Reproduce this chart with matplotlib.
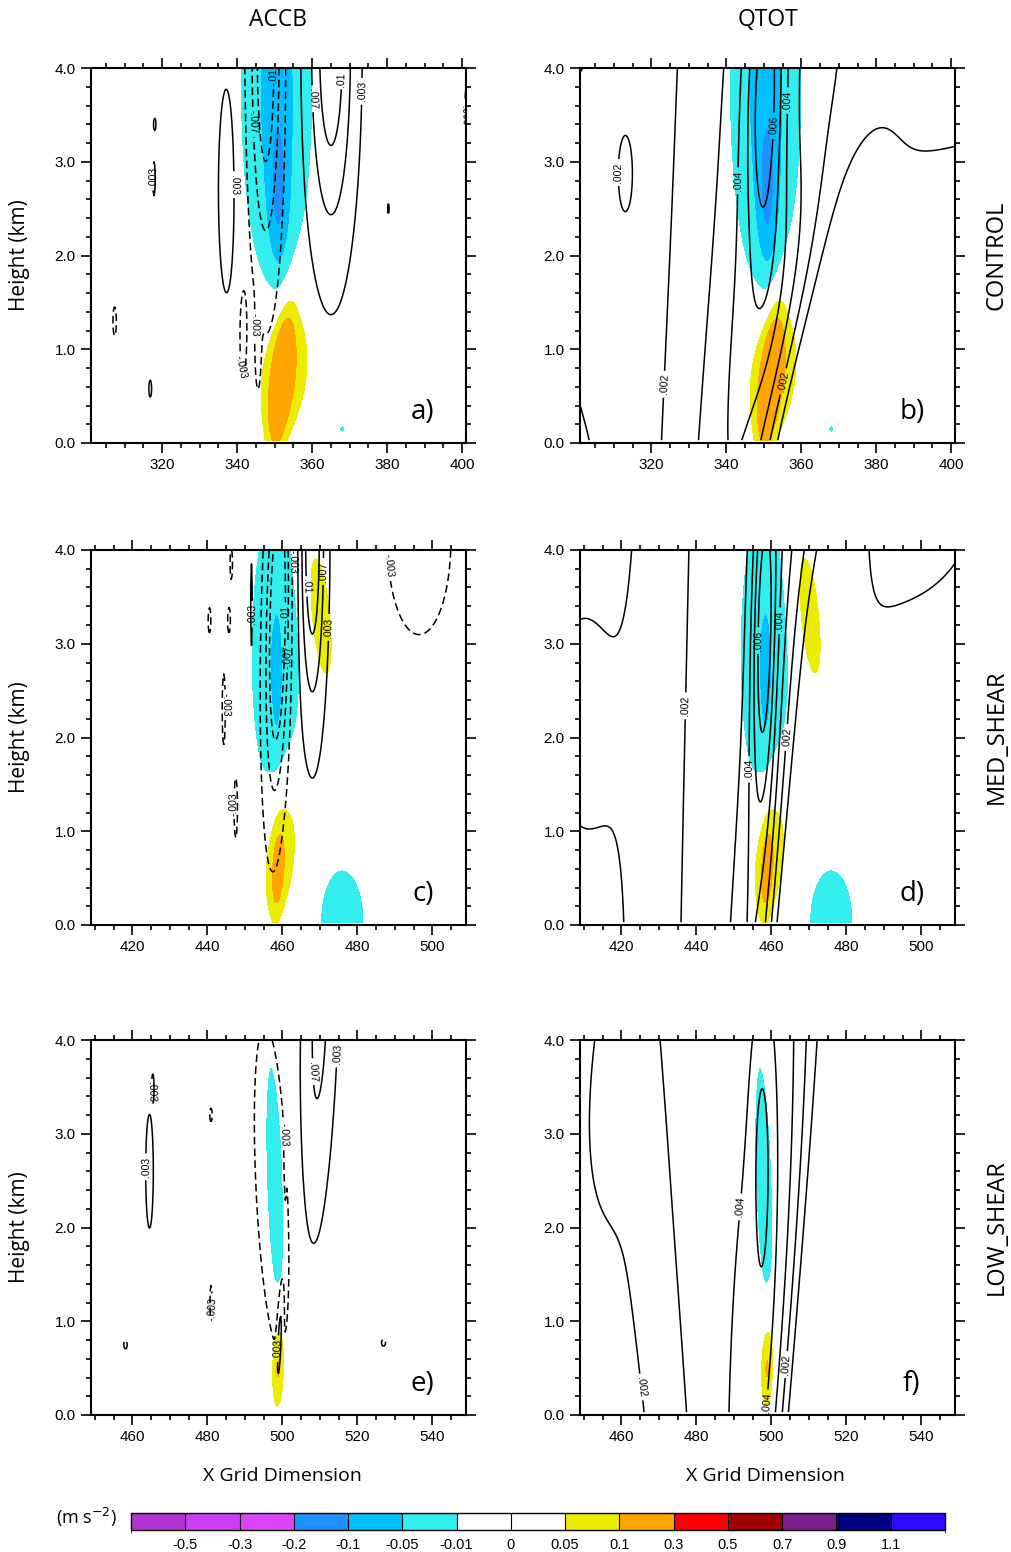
"""
Vertical accelerations (shaded) with ACCB / QTOT contours for the three shear runs.
"""
import numpy as np
import matplotlib
matplotlib.use("Agg")
import matplotlib.pyplot as plt
from matplotlib.colors import ListedColormap, BoundaryNorm
from matplotlib.cm import ScalarMappable
from matplotlib.ticker import MultipleLocator, FormatStrFormatter

OUTPUT = "out.png"

# shading: acceleration (m s-2)
ACCEL_LEVELS = [-0.5, -0.3, -0.2, -0.1, -0.05, -0.01, 0, 0.05, 0.1, 0.3, 0.5, 0.7, 0.9, 1.1]
ACCEL_LABELS = ["-0.5", "-0.3", "-0.2", "-0.1", "-0.05", "-0.01", "0",
                "0.05", "0.1", "0.3", "0.5", "0.7", "0.9", "1.1"]
ACCEL_COLORS = ["#b232d2", "#cc3ef2", "#dc44fc", "#1e90ff", "#00bfff", "#34eded",
                "#ffffff", "#ffffff", "#ecec00", "#ffa500", "#ff0000", "#a00000",
                "#7a1f8c", "#000080", "#2e0aff"]

# line contours
ACCB_LEVELS = [-0.01, -0.007, -0.003, 0.003, 0.007, 0.01]
QTOT_LEVELS = [0.001, 0.002, 0.003, 0.004, 0.005, 0.006, 0.007, 0.008]
QTOT_LABELED = [0.002, 0.004, 0.006]

# x-ranges (grid points) for each run
CONTROL_XLIM = (301, 401)
MED_XLIM = (409, 509)
LOW_XLIM = (449, 549)

# cells: (x centre, z centre km, x width, z width, amplitude, tilt dx/dz)
CONTROL_ACCEL = [
    (351.0, 2.6, 2.0, 0.55, -0.08, 0.0),
    (350.5, 3.8, 4.8, 1.10, -0.075, 0.0),
    (352.5, 0.72, 5.0, 0.55, 0.10, 2.5),
    (351.8, 0.65, 1.6, 0.42, 0.20, 2.5),
    (368.0, 0.15, 0.6, 0.03, -0.02, 0.0),
]
CONTROL_ACCB = [
    (337.2, 2.7, 2.2, 1.1, 0.005, 0.0),
    (347.6, 4.2, 3.4, 1.8, -0.0125, 0.0),
    (365.0, 4.2, 5.0, 1.7, 0.012, 0.0),
    (341.5, 1.15, 0.8, 0.4, -0.005, 0.0),
    (345.5, 1.0, 0.5, 0.3, -0.0045, 0.0),
    (403.0, 3.6, 2.5, 0.5, -0.0045, 0.0),
    (318.0, 3.4, 0.35, 0.07, 0.0045, 0.0),
    (317.8, 2.82, 0.35, 0.2, 0.0045, 0.0),
    (307.3, 1.3, 0.5, 0.17, -0.0045, 0.0),
    (316.8, 0.58, 0.4, 0.1, 0.0045, 0.0),
    (380.3, 2.5, 0.25, 0.07, 0.004, 0.0),
]
CONTROL_QTOT = [
    (342.0, 0.0, 7.0, 40.0, 0.0014, 2.0),
    (338.0, 0.0, 22.0, 40.0, 0.0025, 1.0),
    (360.0, 0.0, 5.5, 1.6, -0.0030, 6.0),
    (350.5, 3.6, 3.5, 1.3, 0.0028, 0.5),
    (355.0, 1.8, 6.0, 1.1, 0.0012, 4.0),
    (400.0, 4.3, 25.0, 1.1, 0.0016, 0.0),
    (300.0, 2.4, 8.0, 1.6, 0.0009, 0.0),
    (313.0, 2.9, 1.8, 0.4, 0.0011, 0.0),
]

MED_ACCEL = [
    (458.3, 2.9, 3.8, 0.90, -0.045, 0.0),
    (458.5, 2.6, 1.0, 0.45, -0.035, 0.0),
    (476.0, 0.05, 3.2, 0.30, -0.05, 0.0),
    (470.3, 3.3, 2.6, 0.68, 0.075, -2.3),
    (459.5, 0.70, 3.3, 0.52, 0.09, 2.4),
    (458.8, 0.55, 1.0, 0.30, 0.07, 1.0),
]
MED_ACCB = [
    (458.8, 3.2, 2.56, 1.5, -0.014, 0.5),
    (468.0, 4.1, 2.8, 1.5, 0.0125, 0.0),
    (496.5, 4.1, 6.5, 0.77, -0.007, 0.0),
    (444.4, 2.3, 0.45, 0.42, -0.0045, 0.0),
    (445.8, 3.25, 0.4, 0.15, -0.0045, 0.0),
    (440.6, 3.25, 0.4, 0.15, -0.0045, 0.0),
    (447.6, 1.25, 0.5, 0.35, -0.0045, 0.0),
    (446.4, 3.85, 0.35, 0.18, -0.0045, 0.0),
    (451.8, 3.4, 0.25, 0.55, 0.0045, 0.0),
]
MED_QTOT = [
    (455.0, 0.0, 4.0, 40.0, 0.0018, 1.5),
    (448.0, 0.0, 20.0, 40.0, 0.0024, 0.5),
    (467.0, 0.0, 4.5, 40.0, -0.0030, 3.0),
    (458.0, 3.2, 2.2, 1.3, 0.0030, 0.3),
    (495.0, 4.7, 16.0, 0.9, 0.0022, 0.0),
    (407.0, 2.2, 8.0, 1.3, 0.0010, 0.0),
]

LOW_ACCEL = [
    (498.0, 2.5, 1.45, 0.82, -0.03, -0.8),
    (498.9, 0.5, 1.2, 0.33, 0.105, 0.5),
]
LOW_ACCB = [
    (464.6, 2.6, 1.0, 0.6, 0.005, 0.0),
    (497.5, 2.4, 3.6, 1.4, -0.0065, -1.2),
    (510.0, 4.3, 3.6, 1.8, 0.008, 0.8),
    (499.3, 0.8, 0.45, 0.35, 0.009, 1.0),
    (500.8, 3.0, 0.2, 0.4, 0.0045, 0.0),
    (465.5, 3.5, 0.25, 0.12, 0.0045, 0.0),
    (481.0, 1.2, 0.3, 0.2, -0.0045, 0.0),
    (481.0, 3.2, 0.35, 0.08, -0.0045, 0.0),
    (458.2, 0.75, 0.5, 0.05, -0.0045, 0.0),
    (527.0, 0.77, 0.6, 0.04, -0.0045, 0.0),
]
LOW_QTOT = [
    (490.0, 0.0, 20.0, 40.0, 0.0036, -1.5),
    (498.0, 0.0, 6.0, 40.0, 0.0014, 1.0),
    (512.0, 0.0, 7.0, 40.0, -0.0045, 3.5),
    (457.0, 3.4, 5.0, 0.9, 0.0007, 2.0),
    (497.5, 2.8, 1.8, 1.0, 0.0012, 0.0),
    (449.0, 2.0, 12.0, 3.0, 0.0008, 0.0),
]

ROWS = [
    ("CONTROL", CONTROL_XLIM, CONTROL_ACCEL, CONTROL_ACCB, CONTROL_QTOT, "a)", "b)"),
    ("MED_SHEAR", MED_XLIM, MED_ACCEL, MED_ACCB, MED_QTOT, "c)", "d)"),
    ("LOW_SHEAR", LOW_XLIM, LOW_ACCEL, LOW_ACCB, LOW_QTOT, "e)", "f)"),
]

W, H = 1012, 1552
TICK_FONT = ["Liberation Sans", "DejaVu Sans"]
TITLE_FONT = ["Open Sans", "DejaVu Sans"]

cmap = ListedColormap(ACCEL_COLORS)
norm = BoundaryNorm(ACCEL_LEVELS, ncolors=len(ACCEL_COLORS), extend="both")


def cells(x, z, spec):
    X, Z = np.meshgrid(x, z)
    F = np.zeros_like(X)
    for xc, zc, sx, sz, amp, tilt in spec:
        xs = xc + tilt * (Z - zc)
        F += amp * np.exp(-0.5 * (((X - xs) / sx) ** 2 + ((Z - zc) / sz) ** 2))
    return F


def fmt(v):
    s = f"{v:.3f}".rstrip("0")
    return s.replace("0.", ".", 1)


def axes_px(left, top, size=375):
    return [left / W, 1 - (top + size) / H, size / W, size / H]


def draw_panel(ax, xlim, accel, lines, levels, labeled, tag):
    x = np.linspace(xlim[0], xlim[1], 501)
    z = np.linspace(0.03, 4.0, 400)
    ax.contourf(x, z, cells(x, z, accel), levels=ACCEL_LEVELS,
                cmap=cmap, norm=norm, extend="both")
    styles = [(0, (5, 2.7)) if lv < 0 else "solid" for lv in levels]
    cs = ax.contour(x, z, cells(x, z, lines), levels=levels, colors="k",
                    linewidths=1.1, linestyles=styles)
    lab = ax.clabel(cs, levels=labeled, fmt=fmt, fontsize=7.5,
                    inline=True, inline_spacing=2)
    for t in lab:
        t.set_family(TICK_FONT)

    ax.set_xlim(*xlim)
    ax.set_ylim(0, 4)
    ax.xaxis.set_major_locator(MultipleLocator(20))
    ax.xaxis.set_minor_locator(MultipleLocator(5))
    ax.yaxis.set_major_locator(MultipleLocator(1))
    ax.yaxis.set_minor_locator(MultipleLocator(0.2))
    ax.yaxis.set_major_formatter(FormatStrFormatter("%.1f"))
    ax.tick_params(which="both", direction="out", top=True, right=True,
                   width=1.2, labelsize=11)
    ax.tick_params(which="major", length=7, pad=4)
    ax.tick_params(which="minor", length=3.5)
    for lbl in ax.get_xticklabels() + ax.get_yticklabels():
        lbl.set_family(TICK_FONT)
    for sp in ax.spines.values():
        sp.set_linewidth(1.5)
    ax.text(0.885, 0.083, tag, transform=ax.transAxes, ha="center",
            va="center", fontsize=20, family=TITLE_FONT)


def draw():
    fig = plt.figure(figsize=(W / 100, H / 100), dpi=100)
    fig.patch.set_facecolor("white")

    tops = [68, 550, 1040]
    for (name, xlim, accel, accb, qtot, ta, tb), top in zip(ROWS, tops):
        ax_l = fig.add_axes(axes_px(91, top))
        ax_r = fig.add_axes(axes_px(580, top))
        draw_panel(ax_l, xlim, accel, accb, ACCB_LEVELS, ACCB_LEVELS, ta)
        draw_panel(ax_r, xlim, accel, qtot, QTOT_LEVELS, QTOT_LABELED, tb)
        yc = 1 - (top + 187) / H
        fig.text(20 / W, yc, "Height (km)", rotation=90, ha="center",
                 va="center", fontsize=15, family=TITLE_FONT)
        fig.text(997 / W, yc, name, rotation=90, ha="center", va="center",
                 fontsize=17, family=TITLE_FONT)

    fig.text(278 / W, 1 - 20 / H, "ACCB", ha="center", va="center",
             fontsize=16.5, family=TITLE_FONT)
    fig.text(768 / W, 1 - 20 / H, "QTOT", ha="center", va="center",
             fontsize=16.5, family=TITLE_FONT)
    for xc in (282, 765):
        fig.text(xc / W, 1 - 1476 / H, "X Grid Dimension", ha="center",
                 va="center", fontsize=14, family=TITLE_FONT)

    # label bar with equal-width boxes, ends drawn square
    cax = fig.add_axes([131 / W, 1 - 1530 / H, 814 / W, 17 / H])
    bounds = [ACCEL_LEVELS[0] - 0.2] + ACCEL_LEVELS + [ACCEL_LEVELS[-1] + 0.2]
    sm = ScalarMappable(norm=BoundaryNorm(bounds, len(ACCEL_COLORS)), cmap=cmap)
    cb = fig.colorbar(sm, cax=cax, orientation="horizontal", boundaries=bounds,
                      spacing="uniform", ticks=ACCEL_LEVELS, drawedges=True)
    cb.set_ticklabels(ACCEL_LABELS)
    cax.tick_params(length=0, pad=6, labelsize=10.5)
    for lbl in cax.get_xticklabels():
        lbl.set_family(["Liberation Sans Narrow", "Liberation Sans", "DejaVu Sans"])
    cb.outline.set_linewidth(1.0)
    cb.dividers.set_linewidth(0.8)
    fig.text(87 / W, 1 - 1517 / H, "(m s$^{-2}$)", ha="center", va="center",
             fontsize=13, family=TITLE_FONT)

    fig.savefig(OUTPUT, dpi=100, facecolor="white")
    plt.close(fig)


if __name__ == "__main__":
    draw()
